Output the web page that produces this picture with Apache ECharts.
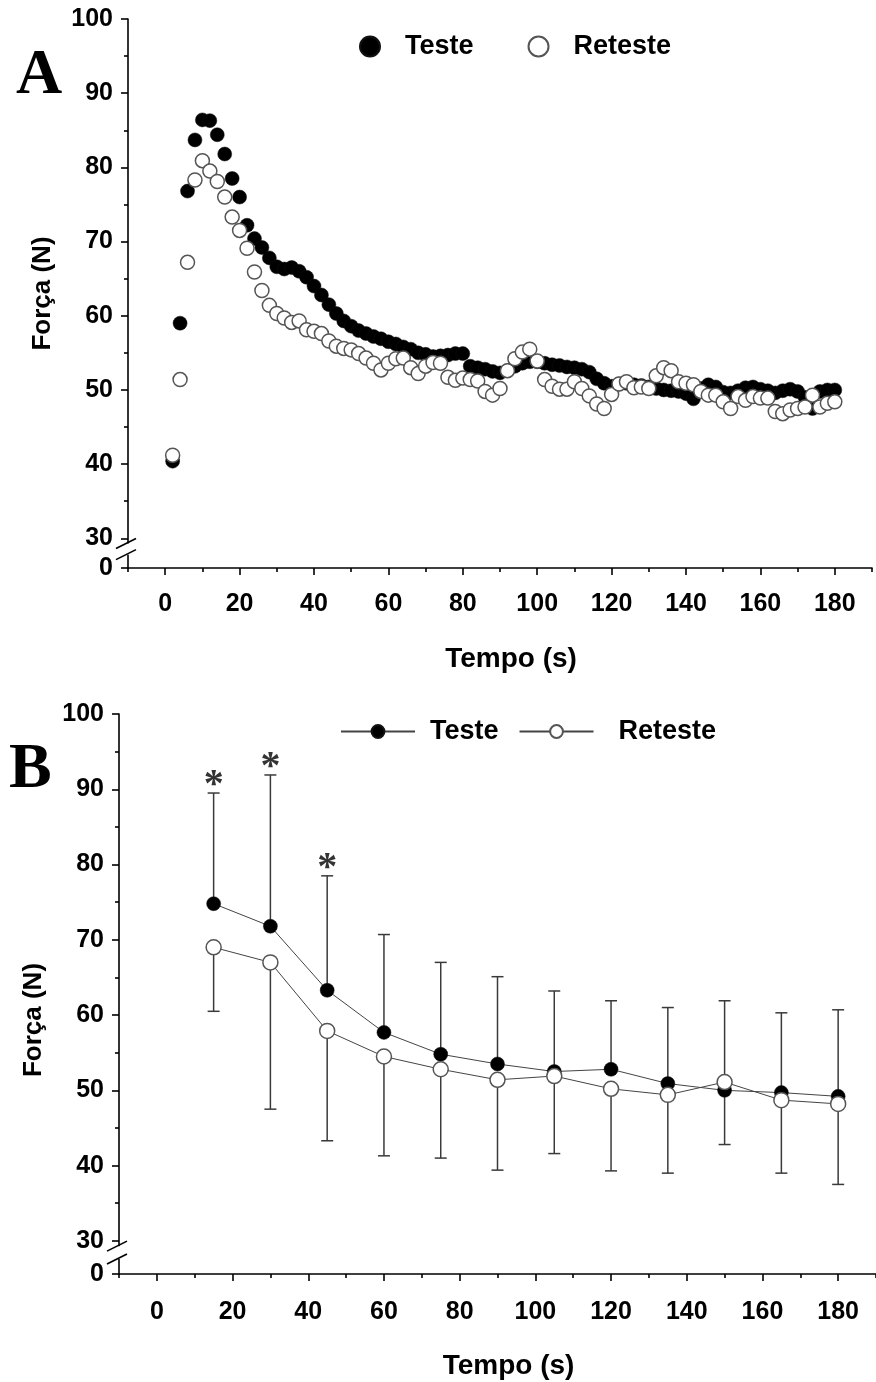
<!DOCTYPE html>
<html><head><meta charset="utf-8">
<script src="https://cdn.jsdelivr.net/npm/echarts@6/dist/echarts.min.js"></script>
<style>html,body{margin:0;padding:0;background:#fff}#c{width:876px;height:1382px}</style>
</head><body><div id="c"></div>
<script>
// ---------- Panel A data (time in s, force in N) ----------
const timeA = [2,4,6,8,10,12,14,16,18,20,22,24,26,28,30,32,34,36,38,40,42,44,46,48,50,52,54,56,58,60,
  62,64,66,68,70,72,74,76,78,80,82,84,86,88,90,92,94,96,98,100,102,104,106,108,110,112,114,116,118,120,
  122,124,126,128,130,132,134,136,138,140,142,144,146,148,150,152,154,156,158,160,162,164,166,168,170,172,174,176,178,180];
const testeA = [40.4,59.0,76.8,83.7,86.4,86.3,84.4,81.8,78.5,76.0,72.2,70.4,69.2,67.8,66.6,66.3,66.5,66.0,65.2,64.0,
  62.8,61.5,60.3,59.3,58.6,58.0,57.6,57.2,56.9,56.5,56.2,55.8,55.5,55.0,54.8,54.5,54.6,54.7,54.9,54.9,
  53.2,53.0,52.8,52.5,52.3,52.6,53.2,53.6,53.8,53.8,53.6,53.4,53.3,53.1,53.0,52.8,52.4,51.5,50.9,50.5,
  50.8,50.9,50.7,50.6,50.4,50.2,50.0,49.9,49.8,49.5,48.8,50.2,50.7,50.4,49.7,49.6,49.9,50.3,50.4,50.1,
  49.9,49.6,49.9,50.1,49.8,49.0,47.5,49.8,50.0,50.0];
const retesteA = [41.2,51.4,67.2,78.3,80.9,79.5,78.1,76.0,73.3,71.5,69.1,65.9,63.4,61.4,60.3,59.7,59.1,59.3,58.1,57.9,
  57.6,56.6,55.9,55.6,55.4,54.9,54.3,53.6,52.7,53.6,54.2,54.3,53.0,52.2,53.2,53.7,53.6,51.7,51.3,51.6,
  51.4,51.2,49.8,49.3,50.2,52.6,54.2,55.1,55.5,53.9,51.4,50.5,50.1,50.1,51.1,50.2,49.2,48.1,47.5,49.4,
  50.8,51.1,50.3,50.4,50.2,51.9,53.0,52.6,51.1,50.9,50.7,49.8,49.3,49.3,48.4,47.5,49.1,48.6,49.1,48.9,
  48.9,47.1,46.8,47.3,47.5,47.7,49.3,47.7,48.2,48.4];

// ---------- Panel B data (mean and SD every 15 s) ----------
const timeB = [15,30,45,60,75,90,105,120,135,150,165,180];
const testeB = [74.8,71.8,63.3,57.7,54.8,53.5,52.5,52.8,50.9,50.0,49.7,49.2];
const retesteB = [69.0,67.0,57.9,54.5,52.8,51.4,51.9,50.2,49.4,51.1,48.7,48.2];
const testeSD = [14.7,20.1,15.2,13.0,12.2,11.6,10.7,9.1,10.1,11.9,10.6,11.5];
const retesteSD = [8.5,19.5,14.6,13.2,11.8,12.0,10.3,10.9,10.4,8.3,9.7,10.7];
const signifB = [15,30,45];

// ---------- Axis tick / label values ----------
const xLabelVals = [0,20,40,60,80,100,120,140,160,180];
const xMinorVals = [-10,10,30,50,70,90,110,130,150,170,190];
const yLabelValsA = [26,30,40,50,60,70,80,90,100];
const yLabelValsB = [25.6,30,40,50,60,70,80,90,100];
const yMinorVals = [35,45,55,65,75,85,95];

const FONT = '"Liberation Sans", Arial, sans-serif';
const SERIF = '"Liberation Serif", "Times New Roman", serif';
const chart = echarts.init(document.getElementById('c'), null, {renderer:'canvas'});

const grids = [
  {left:128, right:4, top:19, bottom:814},
  {left:119, right:-5, top:714, bottom:108}
];
const yMins = [26, 25.6];
const yLabelSets = [yLabelValsA, yLabelValsB];
const xLabelMargins = [24, 26];
const xNameGaps = [77, 78];
const yNamePads = [[0,0,0,0],[0,52,0,0]];

function xAxes(gi){
  return [
    {type:'value', gridIndex:gi, min:-10, max:190, position:'bottom',
     name:'Tempo (s)', nameLocation:'middle', nameGap:xNameGaps[gi],
     nameTextStyle:{fontFamily:FONT, fontWeight:'bold', fontSize:28, color:'#000', padding:[0,0,0,22]},
     axisLine:{show:true, onZero:false, lineStyle:{color:'#000', width:1.6}},
     axisTick:{show:true, customValues:xLabelVals, length:7, lineStyle:{color:'#000', width:1.6}},
     axisLabel:{show:true, customValues:xLabelVals, fontFamily:FONT, fontWeight:'bold', fontSize:25, color:'#000', margin:xLabelMargins[gi]},
     splitLine:{show:false}},
    {type:'value', gridIndex:gi, min:-10, max:190, position:'bottom',
     axisLine:{show:false, onZero:false},
     axisTick:{show:true, customValues:xMinorVals, length:4, lineStyle:{color:'#000', width:1.6}},
     axisLabel:{show:false}, splitLine:{show:false}}
  ];
}
function yAxes(gi){
  const mn = yMins[gi];
  return [
    {type:'value', gridIndex:gi, min:mn, max:100, position:'left',
     name:'Força (N)', nameLocation:'middle', nameGap:72, nameRotate:90,
     nameTextStyle:{fontFamily:FONT, fontWeight:'bold', fontSize:26, color:'#000', padding:yNamePads[gi]},
     axisLine:{show:true, onZero:false, lineStyle:{color:'#000', width:1.6}},
     axisTick:{show:true, customValues:yLabelSets[gi], length:7, lineStyle:{color:'#000', width:1.6}},
     axisLabel:{show:true, customValues:yLabelSets[gi], formatter:v => (v < 30 ? '0' : String(v)),
       fontFamily:FONT, fontWeight:'bold', fontSize:25, color:'#000', margin:15},
     splitLine:{show:false}},
    {type:'value', gridIndex:gi, min:mn, max:100, position:'left',
     axisLine:{show:false, onZero:false},
     axisTick:{show:true, customValues:yMinorVals, length:4, lineStyle:{color:'#000', width:1.6}},
     axisLabel:{show:false}, splitLine:{show:false}}
  ];
}

const ptsA = (ys) => timeA.map((t,i) => [t, ys[i]]);
const ptsB = (ys) => timeB.map((t,i) => [t, ys[i]]);
const hollow = {color:'#fff', borderColor:'#555', borderWidth:1.5, opacity:1};
const filled = {color:'#000', borderColor:'#111', borderWidth:0.5, opacity:1};

function errRender(params, api){
  const x = api.value(0), a = api.value(1), b = api.value(2);
  const p0 = api.coord([x,a]), p1 = api.coord([x,b]);
  const cw = 6;
  return {type:'group', children:[
    {type:'line', shape:{x1:p0[0],y1:p0[1],x2:p1[0],y2:p1[1]}, style:{stroke:'#3a3a3a', lineWidth:1.5}},
    {type:'line', shape:{x1:p1[0]-cw,y1:p1[1],x2:p1[0]+cw,y2:p1[1]}, style:{stroke:'#3a3a3a', lineWidth:1.5}}
  ]};
}

const legendText = {fontFamily:FONT, fontWeight:'bold', fontSize:27, color:'#000'};
const option = {
  animation:false,
  backgroundColor:'#fff',
  grid:grids,
  xAxis:[...xAxes(0), ...xAxes(1)],
  yAxis:[...yAxes(0), ...yAxes(1)],
  legend:[
    {data:['Teste','Reteste'], left:354, top:28, itemWidth:20, itemHeight:20, itemGap:54, icon:'circle',
     textStyle:Object.assign({padding:[0,0,0,20]}, legendText)},
    {data:['TesteB','RetesteB'], left:335, top:713, itemWidth:74, itemHeight:16, itemGap:20,
     formatter:n => (n === 'TesteB' ? '{t|Teste}' : '{r|Reteste}'),
     textStyle:Object.assign({rich:{t:Object.assign({padding:[0,0,0,10]}, legendText),
                                    r:Object.assign({padding:[0,0,0,20]}, legendText)}}, legendText)}
  ],
  series:[
    {name:'Teste', type:'scatter', xAxisIndex:0, yAxisIndex:0, symbol:'circle', symbolSize:14,
     itemStyle:filled, data:ptsA(testeA), z:2},
    {name:'Reteste', type:'scatter', xAxisIndex:0, yAxisIndex:0, symbol:'circle', symbolSize:14,
     itemStyle:hollow, data:ptsA(retesteA), z:3},
    {name:'errUp', type:'custom', xAxisIndex:2, yAxisIndex:2, renderItem:errRender,
     encode:{x:0, y:[1,2]}, data:timeB.map((t,i)=>[t, testeB[i], +(testeB[i]+testeSD[i]).toFixed(2)]), z:1},
    {name:'errDown', type:'custom', xAxisIndex:2, yAxisIndex:2, renderItem:errRender,
     encode:{x:0, y:[1,2]}, data:timeB.map((t,i)=>[t, retesteB[i], +(retesteB[i]-retesteSD[i]).toFixed(2)]), z:1},
    {name:'TesteB', type:'line', xAxisIndex:2, yAxisIndex:2, symbol:'circle', symbolSize:14,
     lineStyle:{color:'#444', width:1}, itemStyle:filled, data:ptsB(testeB), z:3},
    {name:'RetesteB', type:'line', xAxisIndex:2, yAxisIndex:2, symbol:'circle', symbolSize:15,
     lineStyle:{color:'#444', width:1}, itemStyle:hollow, data:ptsB(retesteB), z:3},
    {name:'sig', type:'scatter', xAxisIndex:2, yAxisIndex:2, symbolSize:1, itemStyle:{color:'rgba(0,0,0,0)'},
     data:signifB.map(t => { const i = timeB.indexOf(t); return [t, testeB[i]+testeSD[i]]; }),
     label:{show:true, formatter:'*', position:'top', distance:-13,
       fontFamily:SERIF, fontWeight:'bold', fontSize:40, color:'#000'}, z:4}
  ]
};
chart.setOption(option);

// panel letters and axis break marks
function breakMarks(gi, yTop, yBot){
  const xa = gi*2, ya = gi*2;
  const pTop = chart.convertToPixel({xAxisIndex:xa, yAxisIndex:ya}, [-10, yTop]);
  const pBot = chart.convertToPixel({xAxisIndex:xa, yAxisIndex:ya}, [-10, yBot]);
  const x = pTop[0];
  return [
    {type:'rect', shape:{x:x-3, y:pTop[1], width:6, height:pBot[1]-pTop[1]}, style:{fill:'#fff'}, z:50},
    {type:'line', shape:{x1:x-12, y1:pTop[1]+5, x2:x+8, y2:pTop[1]-5}, style:{stroke:'#000', lineWidth:1.6}, z:51},
    {type:'line', shape:{x1:x-12, y1:pBot[1]+5, x2:x+8, y2:pBot[1]-5}, style:{stroke:'#000', lineWidth:1.6}, z:51}
  ];
}
chart.setOption({graphic:[
  {type:'text', left:16, top:44, style:{text:'A', font:'bold 64px ' + SERIF, fill:'#000'}, z:60},
  {type:'text', left:9, top:738, style:{text:'B', font:'bold 64px ' + SERIF, fill:'#000'}, z:60},
  ...breakMarks(0, 29.3, 27.8),
  ...breakMarks(1, 29.3, 27.6)
]});
</script></body></html>
